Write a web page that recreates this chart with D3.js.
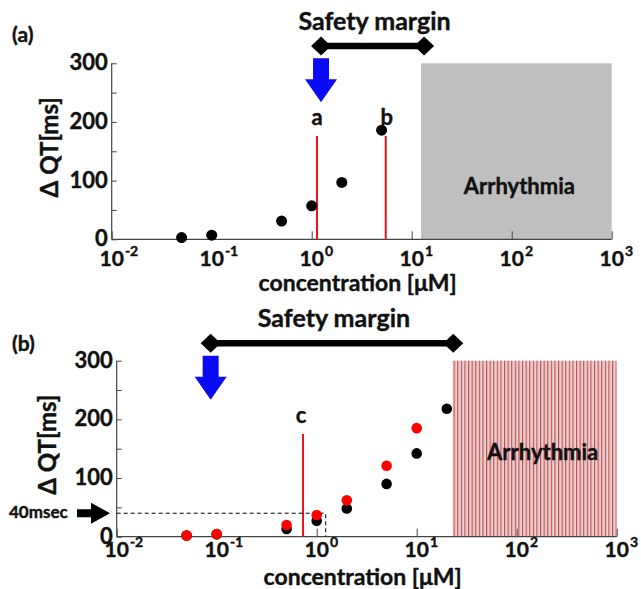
<!DOCTYPE html>
<html><head><meta charset="utf-8">
<script src="https://cdn.jsdelivr.net/npm/d3@7"></script>
<style>
body{margin:0;background:#fff}
svg{display:block}
text{font-family:Lato,"Open Sans",sans-serif;font-weight:bold;fill:#111;stroke:#111;stroke-width:0.4px}
</style>
</head><body>
<svg id="chart" width="641" height="589"></svg>
<script>
// ---------------- data ----------------
const concA = [0.05, 0.1, 0.5, 1, 2, 5];
const qtA = [3, 7, 31, 57, 97, 186];
const concB = [0.05, 0.1, 0.5, 1, 2, 5, 10, 20];
const qtBblack = [2, 4, 13, 27, 48, 90, 142, 218];
const concBred = [0.05, 0.1, 0.5, 1, 2, 5, 10];
const qtBred = [2, 4.5, 20, 37, 62, 121, 185];
const yTicks = [0, 100, 200, 300];
const yMinorTicks = [50, 150, 250];
const xTicks = [0.01, 0.1, 1, 10, 100, 1000];
const xTickExps = ["-2", "-1", "0", "1", "2", "3"];
const markerLabelsA = ["a", "b"];
const markerConcA = [1.13, 5.5];
const markerQtA = [176, 176];
const markerLabelsB = ["c"];
const markerConcB = [0.73];
const markerQtB = [175];
const safetyA = [1.24, 13.3];
const safetyB = [0.087, 23.2];
const arrhythmiaA = [12.4, 1000];
const arrhythmiaB = [22.9, 1000];
const arrowConcA = 1.24;
const arrowConcB = 0.087;
const thresholdQT = 40;
const thresholdConc = 1.23;

// ---------------- drawing ----------------
const svg = d3.select("#chart");
const defs = svg.append("defs");
const pat = defs.append("pattern").attr("id","hatch").attr("patternUnits","userSpaceOnUse")
  .attr("width",3.6).attr("height",10);
pat.append("rect").attr("width",3.6).attr("height",10).attr("fill","#f4e6e6");
pat.append("rect").attr("x",0).attr("width",1.2).attr("height",10).attr("fill","#d04545");
pat.append("rect").attr("x",2.2).attr("width",0.8).attr("height",10).attr("fill","#c8baba");

function drawPanel(cfg) {
  const g = svg.append("g");
  const x = d3.scaleLog().domain([0.01, 1000]).range([cfg.x0, cfg.x1]);
  const y = d3.scaleLinear().domain([0, 300]).range([cfg.yb, cfg.yt]);

  // arrhythmia region
  g.append("rect")
    .attr("x", x(cfg.arr[0])).attr("y", y(300))
    .attr("width", x(cfg.arr[1]) - x(cfg.arr[0]))
    .attr("height", y(0) - y(300))
    .attr("fill", cfg.arrFill);
  g.append("text").attr("x", (x(cfg.arr[0]) + x(cfg.arr[1]))/2 + cfg.arrDx)
    .attr("y", cfg.arrTextY).attr("text-anchor","middle")
    .attr("font-size", 22).text("Arrhythmia");

  // axes
  const yAxis = d3.axisRight(y).tickValues(yTicks.concat(yMinorTicks)).tickSize(5).tickFormat("");
  const ya = g.append("g").attr("transform", `translate(${cfg.x0},0)`).call(yAxis);
  const xAxis = d3.axisTop(x).tickValues(xTicks).tickSize(8).tickFormat("");
  const xa = g.append("g").attr("transform", `translate(0,${cfg.yb})`).call(xAxis);
  [ya, xa].forEach(a => {
    a.select(".domain").attr("stroke","#444").attr("stroke-width",1.2);
    a.selectAll(".tick line").attr("stroke","#444").attr("stroke-width",1);
  });
  xa.select(".domain").attr("d", `M${cfg.x0},0H${cfg.x1}`);
  ya.select(".domain").attr("d", `M0,${cfg.yb}V${cfg.yt}`);

  // y tick labels
  g.selectAll(".ylab").data(yTicks).join("text")
    .attr("x", cfg.x0 - 4).attr("y", d => y(d) + 7)
    .attr("text-anchor","end").attr("font-size", 22).text(d => d);

  // x tick labels
  xTicks.forEach((t, i) => {
    const tx = g.append("text").attr("x", x(t)).attr("y", cfg.yb + cfg.xlabDy)
      .attr("text-anchor","middle").attr("font-size", 21).text("10");
    const w = tx.node().getComputedTextLength();
    g.append("text").attr("x", x(t) + w/2 + 1).attr("y", cfg.yb + cfg.xlabDy - 10)
      .attr("font-size", 14).text(xTickExps[i]);
  });

  // axis titles
  g.append("text").attr("x", (cfg.x0 + cfg.x1)/2 - 4).attr("y", cfg.yb + cfg.xTitleDy)
    .attr("text-anchor","middle").attr("font-size", 23).text("concentration [\u03BCM]");
  g.append("text").attr("transform", `translate(${cfg.ylabX},${(cfg.yb+cfg.yt)/2 - 4}) rotate(-90)`)
    .attr("text-anchor","middle").attr("font-size", 24).text("\u0394 QT[ms]");

  // panel label
  g.append("text").attr("x", 12).attr("y", cfg.panelY).attr("font-size", 21).text(cfg.panel);

  // safety margin bar
  const sy = cfg.yt - 17.4;
  g.append("line").attr("x1", x(cfg.safety[0])).attr("x2", x(cfg.safety[1]))
    .attr("y1", sy).attr("y2", sy).attr("stroke","#000").attr("stroke-width",6.5);
  cfg.safety.forEach(c => {
    const cx = x(c);
    g.append("path").attr("d", `M${cx-10},${sy}L${cx},${sy-9.5}L${cx+10},${sy}L${cx},${sy+9.5}Z`).attr("fill","#000");
  });
  g.append("text").attr("x", (x(cfg.safety[0]) + x(cfg.safety[1]))/2 + 2).attr("y", sy - 16)
    .attr("text-anchor","middle").attr("font-size", 25).text("Safety margin");

  // blue arrow
  const ax = x(cfg.arrow), at = cfg.yt - 5;
  g.append("path").attr("d",
    `M${ax-8},${at}H${ax+8}V${at+21}H${ax+16}L${ax},${at+44}L${ax-16},${at+21}H${ax-8}Z`)
    .attr("fill","#0a0af5");

  // red marker lines
  cfg.mConc.forEach((c, i) => {
    g.append("line").attr("x1", x(c)).attr("x2", x(c)).attr("y1", y(0)).attr("y2", y(cfg.mQt[i]))
      .attr("stroke","#e8141e").attr("stroke-width",2);
    g.append("text").attr("x", x(c) + cfg.mDx[i]).attr("y", y(cfg.mQt[i]) - 11)
      .attr("text-anchor","middle").attr("font-size", 22).text(cfg.mLab[i]);
  });

  return {g, x, y};
}

// Panel A
const A = drawPanel({x0:111.7, x1:611.7, yb:239.3, yt:63.3, arr:arrhythmiaA, arrFill:"#bfbfbf",
  arrDx:3, arrTextY:194, xlabDy:27, xTitleDy:52, ylabX:58, panel:"(a)", panelY:42,
  safety:safetyA, arrow:arrowConcA, mConc:markerConcA, mQt:markerQtA, mLab:markerLabelsA, mDx:[0,1]});
A.g.selectAll(".ptA").data(concA).join("circle")
  .attr("cx", d => A.x(d)).attr("cy", (d,i) => A.y(qtA[i])).attr("r", 5.5).attr("fill","#000");

// Panel B
const B = drawPanel({x0:116.7, x1:616.7, yb:536.7, yt:360.7, arr:arrhythmiaB, arrFill:"url(#hatch)",
  arrDx:8, arrTextY:460, xlabDy:20, xTitleDy:48, ylabX:56, panel:"(b)", panelY:351,
  safety:safetyB, arrow:arrowConcB, mConc:markerConcB, mQt:markerQtB, mLab:markerLabelsB, mDx:[-2]});
// threshold dashed lines
B.g.append("path")
  .attr("d", `M${B.x(0.01)},${B.y(thresholdQT)}H${B.x(thresholdConc)}V${B.y(0)}`)
  .attr("fill","none").attr("stroke","#000").attr("stroke-width",1).attr("stroke-dasharray","4,3");
// 40msec arrow
const ty = B.y(thresholdQT);
B.g.append("path").attr("d",
  `M77,${ty-4}H91V${ty-10.5}L110,${ty}L91,${ty+10.5}V${ty+4}H77Z`).attr("fill","#000");
B.g.append("text").attr("x", 9).attr("y", ty + 5).attr("font-size", 17).text("40msec");
B.g.selectAll(".ptBk").data(concB).join("circle")
  .attr("cx", d => B.x(d)).attr("cy", (d,i) => B.y(qtBblack[i])).attr("r", 5.3).attr("fill","#000");
B.g.selectAll(".ptBr").data(concBred).join("circle")
  .attr("cx", d => B.x(d)).attr("cy", (d,i) => B.y(qtBred[i])).attr("r", 5.3).attr("fill","#ff0000");
</script>
</body></html>
